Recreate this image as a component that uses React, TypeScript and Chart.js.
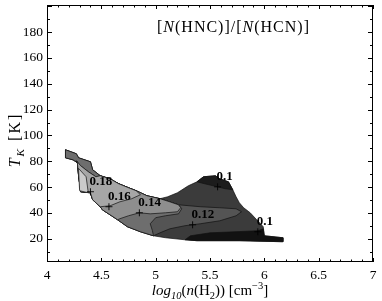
import React, { useEffect, useRef } from 'react';
import { Chart, registerables } from 'chart.js';

Chart.register(...registerables);

const SERIF = '"Liberation Serif", "Times New Roman", serif';

// axis ticks
const X_TICKS = [4, 4.5, 5, 5.5, 6, 6.5, 7];
const Y_TICKS = [20, 40, 60, 80, 100, 120, 140, 160, 180];
const X_RANGE: [number, number] = [4, 7];
const Y_RANGE: [number, number] = [2, 201];

type Pt = [number, number];

// filled contour regions: [log10 n(H2), T_K]
const outerEdge: Pt[] = [
  [4.17, 88.9], [4.27, 85.8], [4.29, 82.7], [4.40, 79.6], [4.42, 73.4], [4.49, 68.8],
  [4.58, 66.4], [4.66, 62.6], [4.75, 59.5], [4.82, 57.2], [4.92, 53.3], [5.04, 51.0],
  [5.11, 52.5], [5.20, 55.6], [5.30, 61.0], [5.38, 64.1], [5.44, 68.0], [5.55, 68.8],
  [5.59, 66.4], [5.67, 64.1], [5.71, 57.9], [5.74, 52.5], [5.77, 47.9], [5.81, 44.0],
  [5.87, 40.1], [5.93, 34.7], [5.99, 29.3], [6.00, 22.3], [6.17, 20.8], [6.17, 17.7],
  [5.77, 18.5], [5.38, 18.5], [5.27, 19.2], [5.09, 20.8], [4.98, 22.3], [4.86, 25.4],
  [4.74, 29.3], [4.65, 34.7], [4.58, 38.6], [4.51, 42.4], [4.49, 44.8], [4.42, 50.2],
  [4.40, 55.6], [4.31, 56.4], [4.29, 69.5], [4.28, 78.8], [4.24, 81.1], [4.17, 82.7],
];

const lowBottom: Pt[] = [
  [5.32, 22.3], [5.50, 24.6], [5.73, 25.4], [5.94, 26.2], [5.99, 27.7], [6.00, 22.3],
  [6.17, 20.8], [6.17, 17.7], [5.77, 18.5], [5.38, 18.5], [5.27, 19.2],
];

const lowTop: Pt[] = [
  [5.38, 64.1], [5.44, 68.0], [5.55, 68.8], [5.59, 66.4], [5.67, 64.1], [5.71, 57.9],
  [5.64, 58.7], [5.57, 60.2], [5.45, 62.6],
];

const level012: Pt[] = [
  [4.17, 88.9], [4.27, 85.8], [4.29, 82.7], [4.40, 79.6], [4.42, 73.4], [4.49, 68.8],
  [4.58, 66.4], [4.66, 62.6], [4.75, 59.5], [4.82, 57.2], [4.92, 53.3], [5.04, 51.0],
  [5.21, 46.3], [5.41, 44.8], [5.59, 44.0], [5.74, 43.2], [5.79, 40.9], [5.74, 37.8],
  [5.59, 33.9], [5.41, 31.6], [5.27, 30.1], [5.13, 27.7], [5.04, 24.6], [4.98, 22.3],
  [4.86, 25.4], [4.74, 29.3], [4.65, 34.7], [4.58, 38.6], [4.51, 42.4], [4.49, 44.8],
  [4.42, 50.2], [4.40, 55.6], [4.31, 56.4], [4.29, 69.5], [4.28, 78.8], [4.24, 81.1],
  [4.17, 82.7],
];

const level013: Pt[] = [
  [4.17, 88.9], [4.27, 85.8], [4.29, 82.7], [4.40, 79.6], [4.42, 73.4], [4.49, 68.8],
  [4.58, 66.4], [4.66, 62.6], [4.75, 59.5], [4.82, 57.2], [4.92, 53.3], [5.04, 51.0],
  [5.21, 46.3], [5.24, 43.2], [5.21, 39.3], [5.09, 37.8], [5.00, 36.3], [4.95, 31.6],
  [4.97, 26.2], [4.98, 22.3], [4.86, 25.4], [4.74, 29.3], [4.65, 34.7], [4.58, 38.6],
  [4.51, 42.4], [4.49, 44.8], [4.42, 50.2], [4.40, 55.6], [4.31, 56.4], [4.29, 69.5],
  [4.28, 78.8], [4.24, 81.1], [4.17, 82.7],
];

const level014: Pt[] = [
  [4.27, 80.4], [4.31, 76.5], [4.38, 71.9], [4.45, 68.0], [4.49, 68.8], [4.58, 66.4],
  [4.66, 62.6], [4.75, 59.5], [4.82, 57.2], [4.92, 53.3], [5.04, 51.0], [5.13, 48.6],
  [5.21, 46.3], [5.23, 44.0], [5.20, 40.9], [5.09, 40.1], [4.95, 39.3], [4.85, 40.1],
  [4.75, 37.8], [4.67, 35.5], [4.65, 34.7], [4.58, 38.6], [4.51, 42.4], [4.49, 44.8],
  [4.42, 50.2], [4.40, 55.6], [4.31, 56.4], [4.29, 69.5], [4.28, 78.8],
];

const level016: Pt[] = [
  [4.27, 80.4], [4.31, 76.5], [4.38, 71.9], [4.45, 68.0], [4.49, 68.8], [4.58, 66.4],
  [4.66, 62.6], [4.75, 59.5], [4.82, 57.2], [4.86, 54.1], [4.78, 51.0], [4.67, 48.6],
  [4.58, 45.5], [4.49, 44.8], [4.42, 50.2], [4.40, 55.6], [4.31, 56.4], [4.29, 69.5],
  [4.28, 78.8],
];

const level018: Pt[] = [
  [4.29, 74.5], [4.36, 68.0], [4.38, 55.6], [4.30, 57.2],
];

// contour labels (marker position + text)
const labelX = [4.40, 4.57, 4.85, 5.34, 5.57, 5.94];
const labelY = [56.4, 44.8, 40.1, 30.8, 60.2, 25.4];
const labelText = ['0.18', '0.16', '0.14', '0.12', '0.1', '0.1'];

const REGIONS: { pts: Pt[]; color: string }[] = [
  { pts: outerEdge, color: '#3b3b3b' },
  { pts: lowBottom, color: '#121212' },
  { pts: lowTop, color: '#1c1c1c' },
  { pts: level012, color: '#545454' },
  { pts: level013, color: '#6e6e6e' },
  { pts: level014, color: '#8e8e8e' },
  { pts: level016, color: '#a6a6a6' },
  { pts: level018, color: '#cacaca' },
];

type Seg = { t: string; it?: boolean; sub?: boolean; sup?: boolean };

const TITLE_SEGS: Seg[] = [
  { t: '[' }, { t: 'N', it: true }, { t: '(HNC)]/[' }, { t: 'N', it: true }, { t: '(HCN)]' },
];
const X_TITLE: Seg[] = [
  { t: 'log', it: true }, { t: '10', it: true, sub: true }, { t: '(' }, { t: 'n', it: true },
  { t: '(H' }, { t: '2', sub: true }, { t: ')) [cm' }, { t: '\u22123', sup: true }, { t: ']' },
];
const Y_TITLE: Seg[] = [
  { t: 'T', it: true }, { t: 'K', it: true, sub: true }, { t: ' [K]' },
];

function segFont(s: Seg, size: number) {
  const sz = s.sub || s.sup ? size * 0.7 : size;
  return `${s.it ? 'italic ' : ''}${sz}px ${SERIF}`;
}

function drawSegs(ctx: CanvasRenderingContext2D, segs: Seg[], x: number, y: number, size: number, center: boolean, spacing = 0) {
  const c: any = ctx;
  c.letterSpacing = `${spacing}px`;
  let w = 0;
  for (const s of segs) {
    ctx.font = segFont(s, size);
    w += ctx.measureText(s.t).width;
  }
  let cx = center ? x - w / 2 : x;
  for (const s of segs) {
    ctx.font = segFont(s, size);
    const dy = s.sub ? size * 0.28 : s.sup ? -size * 0.4 : 0;
    ctx.fillText(s.t, cx, y + dy);
    cx += ctx.measureText(s.t).width;
  }
  c.letterSpacing = '0px';
}

const decorPlugin = {
  id: 'decor',
  afterDraw(chart: any) {
    const ctx: CanvasRenderingContext2D = chart.ctx;
    const { left, right, top, bottom } = chart.chartArea;
    const xs = chart.scales.x;
    const ys = chart.scales.y;
    ctx.save();
    ctx.strokeStyle = '#000';
    ctx.lineWidth = 1;
    // frame
    ctx.strokeRect(Math.round(left) + 0.5, Math.round(top) + 0.5, Math.round(right - left) - 1, Math.round(bottom - top) - 1);
    // inward ticks
    ctx.beginPath();
    for (let i = 0; i <= 30; i++) {
      const v = X_RANGE[0] + i * 0.1;
      const major = i % 5 === 0;
      const len = major ? 4 : 2.5;
      const px = Math.round(xs.getPixelForValue(v)) + 0.5;
      ctx.moveTo(px, bottom);
      ctx.lineTo(px, bottom - len);
      ctx.moveTo(px, top);
      ctx.lineTo(px, top + len);
    }
    for (let v = 10; v <= 200; v += 10) {
      const major = v % 20 === 0;
      const len = major ? 5 : 3;
      const py = Math.round(ys.getPixelForValue(v)) + 0.5;
      ctx.moveTo(left, py);
      ctx.lineTo(left + len, py);
      ctx.moveTo(right, py);
      ctx.lineTo(right - len, py);
    }
    ctx.stroke();

    // contour labels
    ctx.fillStyle = '#000';
    ctx.textAlign = 'left';
    ctx.textBaseline = 'alphabetic';
    ctx.font = `bold 13px ${SERIF}`;
    for (let i = 0; i < labelText.length; i++) {
      const px = xs.getPixelForValue(labelX[i]);
      const py = ys.getPixelForValue(labelY[i]);
      ctx.fillText(labelText[i], px - 1, py - 7);
    }

    // in-plot title
    drawSegs(ctx, TITLE_SEGS, left + 110, top + 27, 16, false, 1);
    // x title
    drawSegs(ctx, X_TITLE, (left + right) / 2, bottom + 33, 15, true);
    // y title
    ctx.translate(20, 140);
    ctx.rotate(-Math.PI / 2);
    drawSegs(ctx, Y_TITLE, 0, 0, 16, true, 2);
    ctx.restore();
  },
};

export default function App() {
  const ref = useRef<HTMLCanvasElement | null>(null);
  useEffect(() => {
    document.body.style.margin = '0';
    const canvas = ref.current;
    if (!canvas) return;
    const datasets: any[] = REGIONS.map((r, i) => ({
      type: 'line',
      data: [...r.pts, r.pts[0]].map(([x, y]) => ({ x, y })),
      backgroundColor: r.color,
      borderColor: '#111',
      borderWidth: 0.7,
      fill: 'shape',
      pointRadius: 0,
      tension: 0,
      order: 20 - i,
    }));
    datasets.push({
      type: 'scatter',
      data: labelX.map((x, i) => ({ x, y: labelY[i] })),
      pointStyle: 'cross',
      pointRadius: 3.5,
      borderColor: '#000',
      borderWidth: 0.9,
      showLine: false,
      order: 0,
    });
    const tickFont = { family: SERIF, size: 13.5 };
    const chart = new Chart(canvas, {
      type: 'scatter',
      data: { datasets },
      options: {
        animation: false,
        responsive: false,
        maintainAspectRatio: false,
        layout: { padding: { top: 5, right: 9, left: 0, bottom: 0 } },
        plugins: {
          legend: { display: false },
          tooltip: { enabled: false },
          title: { display: false },
        },
        scales: {
          x: {
            type: 'linear',
            min: X_RANGE[0],
            max: X_RANGE[1],
            afterBuildTicks: (a: any) => {
              a.ticks = X_TICKS.map((v) => ({ value: v }));
            },
            afterFit: (s: any) => {
              s.height = 39;
              s.paddingLeft = 0;
              s.paddingRight = 0;
            },
            grid: { display: false, drawTicks: false },
            border: { display: false },
            ticks: {
              padding: 5,
              color: '#000',
              font: tickFont,
              maxRotation: 0,
              autoSkip: false,
              callback: (v: any) => String(v),
            },
          },
          y: {
            type: 'linear',
            min: Y_RANGE[0],
            max: Y_RANGE[1],
            afterBuildTicks: (a: any) => {
              a.ticks = Y_TICKS.map((v) => ({ value: v }));
            },
            afterFit: (s: any) => {
              s.width = 47;
              s.paddingTop = 0;
              s.paddingBottom = 0;
            },
            grid: { display: false, drawTicks: false },
            border: { display: false },
            ticks: {
              padding: 4,
              color: '#000',
              font: tickFont,
              autoSkip: false,
              callback: (v: any) => String(v),
            },
          },
        },
      } as any,
      plugins: [decorPlugin],
    } as any);
    return () => chart.destroy();
  }, []);
  return (
    <div style={{ width: 382, height: 301 }}>
      <canvas ref={ref} width={382} height={301} style={{ display: 'block' }} />
    </div>
  );
}
